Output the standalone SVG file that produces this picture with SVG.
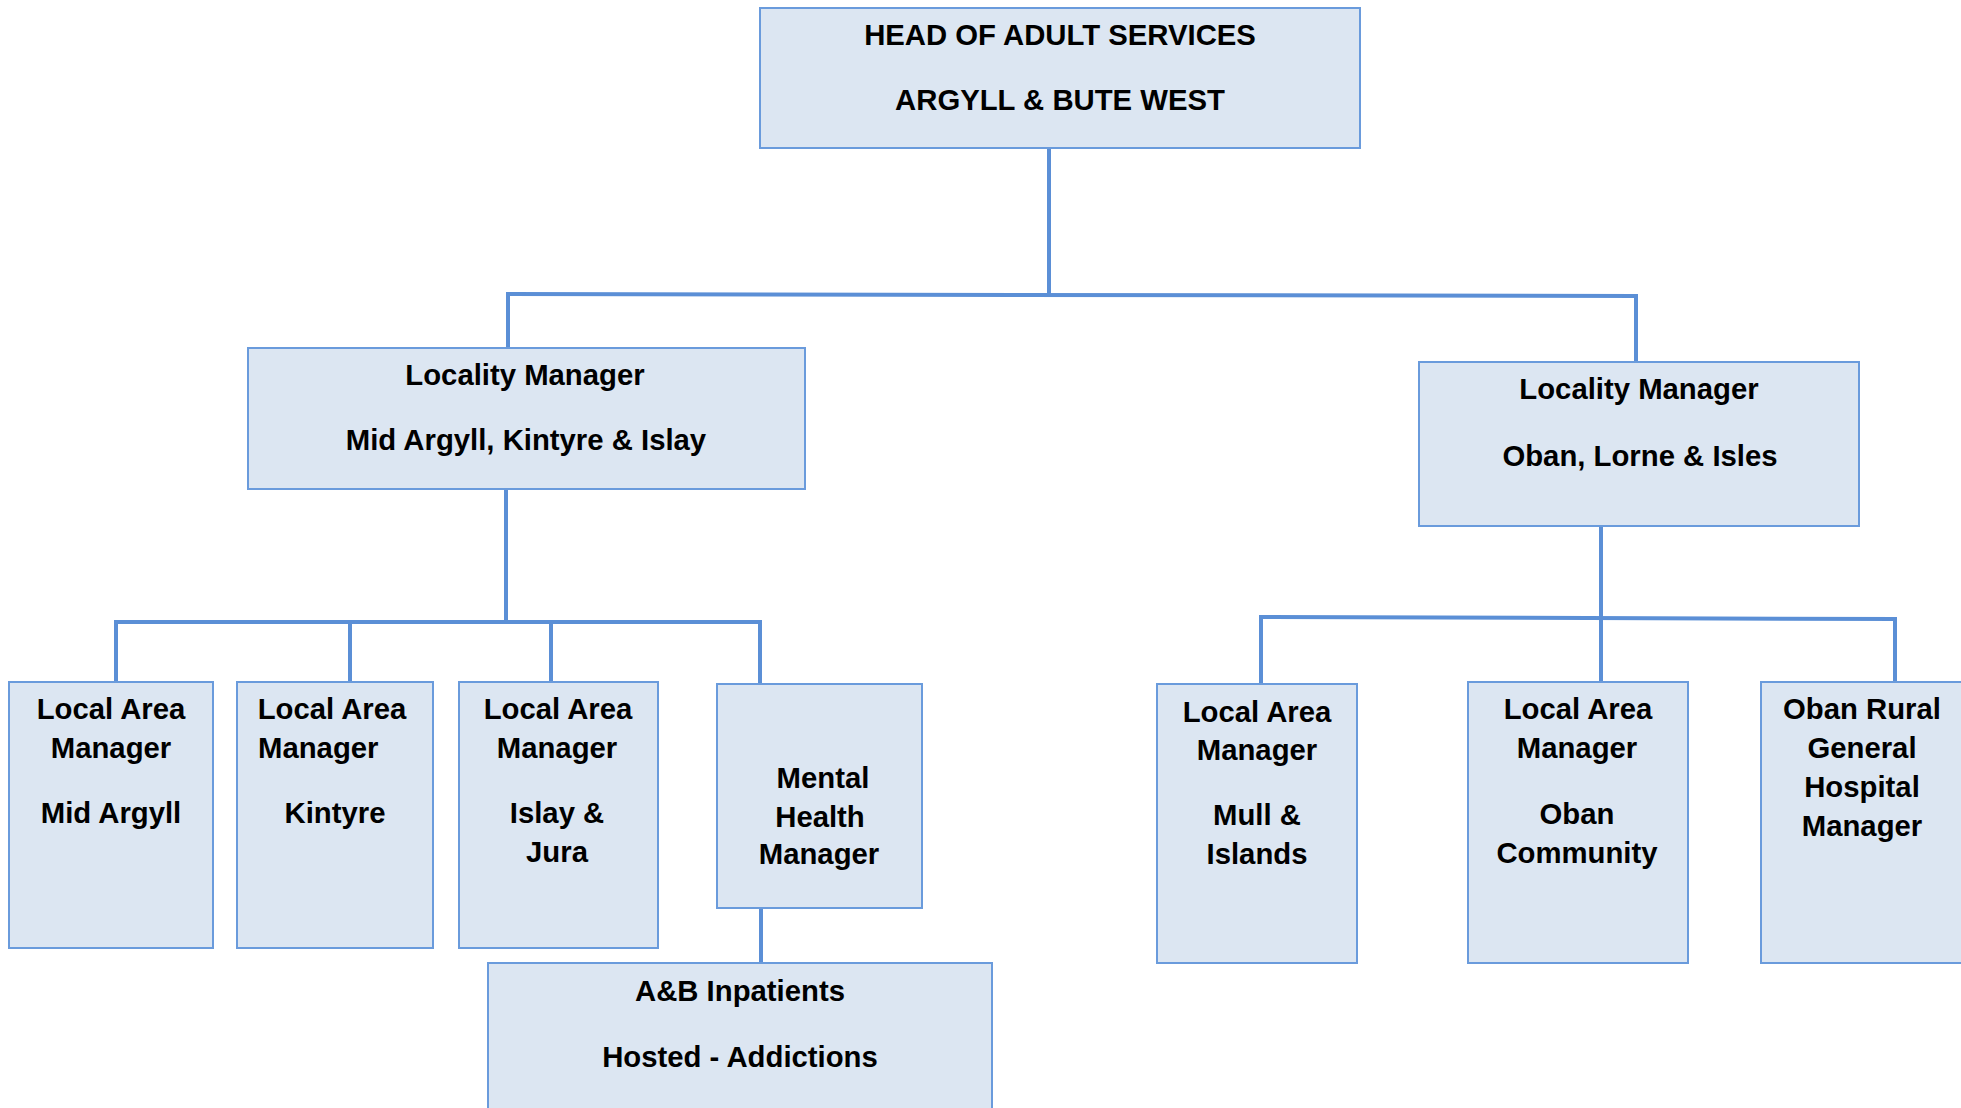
<svg xmlns="http://www.w3.org/2000/svg" width="1961" height="1108" viewBox="0 0 1961 1108">
  <style>
    .box { fill: #dce6f2; stroke: #6a9bdc; stroke-width: 2; }
    .link { stroke: #5b8fd6; stroke-width: 4; fill: none; }
    text { font-family: "Liberation Sans", Arial, sans-serif; font-weight: bold; font-size: 29.3px; fill: #000; text-anchor: middle; }
    .start { text-anchor: start; }
  </style>
  <rect width="1961" height="1108" fill="#ffffff"/>

  <!-- connectors -->
  <g id="connectors">
    <line class="link" x1="1049" y1="148" x2="1049" y2="295"/>
    <line class="link" x1="508" y1="294" x2="1636" y2="296"/>
    <line class="link" x1="508" y1="292" x2="508" y2="348"/>
    <line class="link" x1="1636" y1="294" x2="1636" y2="362"/>

    <line class="link" x1="506" y1="489" x2="506" y2="622"/>
    <line class="link" x1="114" y1="622" x2="762" y2="622"/>
    <line class="link" x1="116" y1="620" x2="116" y2="682"/>
    <line class="link" x1="350" y1="622" x2="350" y2="682"/>
    <line class="link" x1="551" y1="622" x2="551" y2="682"/>
    <line class="link" x1="760" y1="620" x2="760" y2="684"/>
    <line class="link" x1="761" y1="908" x2="761" y2="963"/>

    <line class="link" x1="1601" y1="526" x2="1601" y2="618"/>
    <line class="link" x1="1259" y1="617" x2="1897" y2="619"/>
    <line class="link" x1="1261" y1="615" x2="1261" y2="684"/>
    <line class="link" x1="1601" y1="618" x2="1601" y2="682"/>
    <line class="link" x1="1895" y1="617" x2="1895" y2="682"/>
  </g>

  <!-- top -->
  <g id="head">
    <rect class="box" x="760" y="8" width="600" height="140"/>
    <text x="1060" y="45">HEAD OF ADULT SERVICES</text>
    <text x="1060" y="110">ARGYLL &amp; BUTE WEST</text>
  </g>

  <!-- locality managers -->
  <g id="locality-mid-argyll">
    <rect class="box" x="248" y="348" width="557" height="141"/>
    <text x="525" y="385">Locality Manager</text>
    <text x="526" y="450">Mid Argyll, Kintyre &amp; Islay</text>
  </g>
  <g id="locality-oban">
    <rect class="box" x="1419" y="362" width="440" height="164"/>
    <text x="1639" y="399">Locality Manager</text>
    <text x="1640" y="466">Oban, Lorne &amp; Isles</text>
  </g>

  <!-- Mid Argyll, Kintyre & Islay teams -->
  <g id="lam-mid-argyll">
    <rect class="box" x="9" y="682" width="204" height="266"/>
    <text x="111" y="719">Local Area</text>
    <text x="111" y="758">Manager</text>
    <text x="111" y="823">Mid Argyll</text>
  </g>
  <g id="lam-kintyre">
    <rect class="box" x="237" y="682" width="196" height="266"/>
    <text x="332" y="719">Local Area</text>
    <text class="start" x="258" y="758">Manager</text>
    <text x="335" y="823">Kintyre</text>
  </g>
  <g id="lam-islay">
    <rect class="box" x="459" y="682" width="199" height="266"/>
    <text x="558" y="719">Local Area</text>
    <text x="557" y="758">Manager</text>
    <text x="557" y="823">Islay &amp;</text>
    <text x="557" y="862">Jura</text>
  </g>
  <g id="mental-health">
    <rect class="box" x="717" y="684" width="205" height="224"/>
    <text x="823" y="788">Mental</text>
    <text x="820" y="827">Health</text>
    <text x="819" y="864">Manager</text>
  </g>
  <g id="inpatients">
    <rect class="box" x="488" y="963" width="504" height="160"/>
    <text x="740" y="1001">A&amp;B Inpatients</text>
    <text x="740" y="1067">Hosted - Addictions</text>
  </g>

  <!-- Oban, Lorne & Isles teams -->
  <g id="lam-mull">
    <rect class="box" x="1157" y="684" width="200" height="279"/>
    <text x="1257" y="722">Local Area</text>
    <text x="1257" y="760">Manager</text>
    <text x="1257" y="825">Mull &amp;</text>
    <text x="1257" y="864">Islands</text>
  </g>
  <g id="lam-oban">
    <rect class="box" x="1468" y="682" width="220" height="281"/>
    <text x="1578" y="719">Local Area</text>
    <text x="1577" y="758">Manager</text>
    <text x="1577" y="824">Oban</text>
    <text x="1577" y="863">Community</text>
  </g>
  <g id="oban-rural-hospital">
    <rect class="box" x="1761" y="682" width="210" height="281"/>
    <text x="1862" y="719">Oban Rural</text>
    <text x="1862" y="758">General</text>
    <text x="1862" y="797">Hospital</text>
    <text x="1862" y="836">Manager</text>
  </g>
</svg>
